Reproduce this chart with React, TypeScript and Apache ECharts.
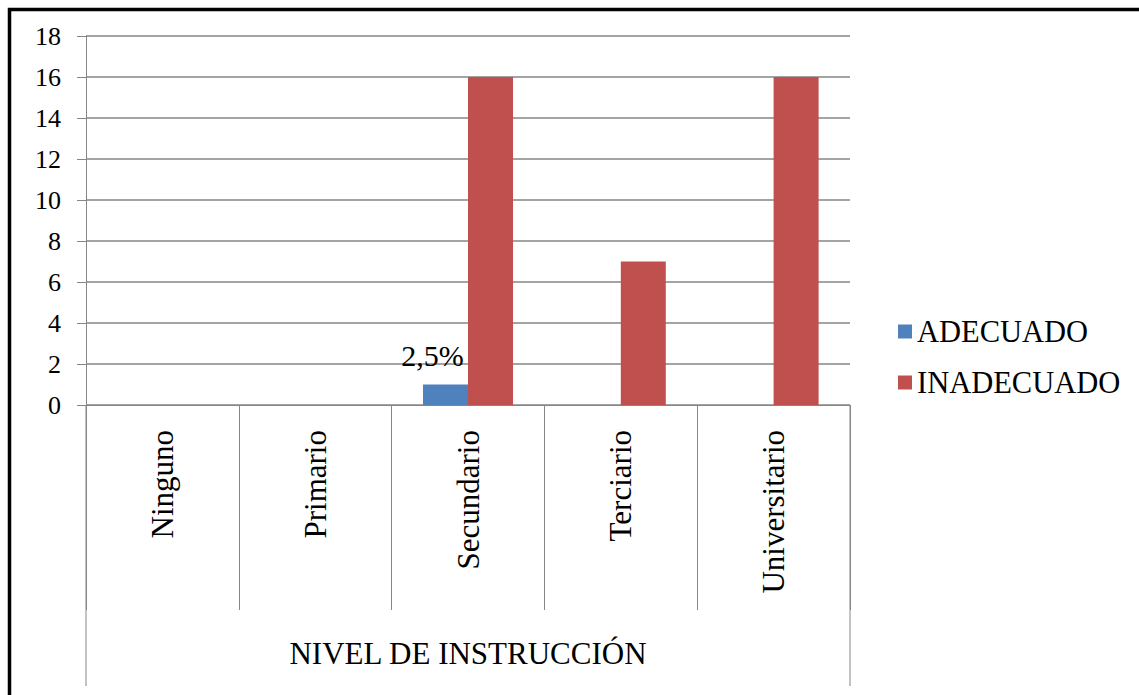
import React, { useEffect, useRef } from "react";
import * as echarts from "echarts";

const categories = ["Ninguno", "Primario", "Secundario", "Terciario", "Universitario"];
const adecuado = [null, null, 1, null, null];
const inadecuado = [null, null, 16, 7, 16];
const adecuadoLabels = ["", "", "2,5%", "", ""];
const yTicks = { min: 0, max: 18, interval: 2 };

const FONT = "Liberation Serif";
const GRAY = "#868686";

// plot box in page pixels
const W = 1139;
const H = 695;
const LEFT = 86;
const RIGHT = 850;
const TOP = 36;
const BOTTOM = 405;

export default function App() {
  const ref = useRef<HTMLDivElement>(null);

  useEffect(() => {
    if (!ref.current) return;
    const chart = echarts.init(ref.current, null, { renderer: "svg" });
    chart.setOption({
      animation: false,
      backgroundColor: "#ffffff",
      textStyle: { fontFamily: FONT, color: "#000" },
      grid: {
        left: LEFT,
        right: W - RIGHT,
        top: TOP,
        bottom: H - BOTTOM,
        containLabel: false,
      },
      legend: {
        orient: "vertical",
        left: 893,
        top: 311,
        itemWidth: 14,
        itemHeight: 14,
        itemGap: 20,
        icon: "rect",
        textStyle: { fontFamily: FONT, fontSize: 30.5, color: "#000", lineHeight: 31 },
        data: ["ADECUADO", "INADECUADO"],
      },
      xAxis: {
        type: "category",
        data: categories,
        boundaryGap: true,
        axisLine: { show: true, lineStyle: { color: GRAY, width: 1 } },
        axisTick: { show: true, interval: 0, length: 205, lineStyle: { color: GRAY, width: 1 } },
        axisLabel: {
          interval: 0,
          rotate: 90,
          margin: 25,
          fontFamily: FONT,
          fontSize: 31,
          color: "#000",
        },
        name: "NIVEL DE INSTRUCCIÓN",
        nameLocation: "middle",
        nameGap: 233,
        nameTextStyle: { fontFamily: FONT, fontSize: 31, color: "#000" },
        splitLine: { show: false },
      },
      yAxis: {
        type: "value",
        min: yTicks.min,
        max: yTicks.max,
        interval: yTicks.interval,
        axisLine: { show: true, lineStyle: { color: GRAY, width: 1 } },
        axisTick: { show: true, length: 9, lineStyle: { color: GRAY, width: 1 } },
        axisLabel: { margin: 25, fontFamily: FONT, fontSize: 26, color: "#000" },
        splitLine: { show: true, lineStyle: { color: GRAY, width: 1.5 } },
      },
      series: [
        {
          name: "ADECUADO",
          type: "bar",
          barWidth: 45,
          barGap: "0%",
          itemStyle: { color: "#4F81BD" },
          data: adecuado.map((v, i) => ({
            value: v,
            label: {
              show: adecuadoLabels[i] !== "",
              position: "top",
              distance: 14,
              offset: [-13, 0],
              formatter: adecuadoLabels[i],
              fontFamily: FONT,
              fontSize: 30,
              color: "#000",
            },
          })),
        },
        {
          name: "INADECUADO",
          type: "bar",
          barWidth: 45,
          barGap: "0%",
          itemStyle: { color: "#C0504D" },
          data: inadecuado,
        },
      ],
      graphic: [
        {
          type: "line",
          shape: { x1: LEFT, y1: BOTTOM, x2: LEFT, y2: 686 },
          style: { stroke: GRAY, lineWidth: 1 },
          z: 10,
        },
        {
          type: "line",
          shape: { x1: RIGHT, y1: BOTTOM, x2: RIGHT, y2: 686 },
          style: { stroke: GRAY, lineWidth: 1 },
          z: 10,
        },
        {
          type: "rect",
          shape: { x: 9.5, y: 9.5, width: 1300, height: 900 },
          style: { fill: "none", stroke: "#000", lineWidth: 3.5 },
          z: 20,
        },
      ],
    });
    return () => chart.dispose();
  }, []);

  return (
    <div
      ref={ref}
      style={{ position: "fixed", left: 0, top: 0, width: W, height: H }}
    />
  );
}
